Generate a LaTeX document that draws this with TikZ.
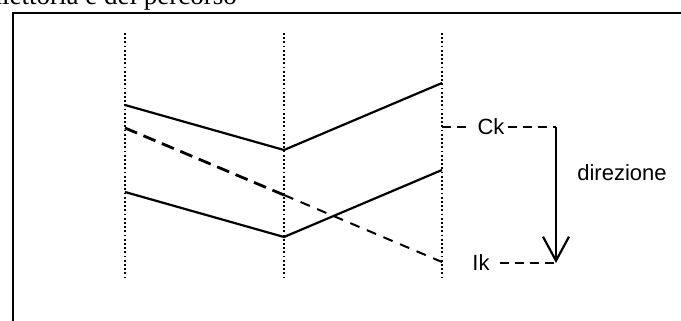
\documentclass[tikz,border=0pt]{standalone}
\usepackage{fontspec}
\setmainfont{Liberation Serif}
\newfontfamily\labelfont{Liberation Sans}
\usetikzlibrary{arrows.meta}
\begin{document}
\begin{tikzpicture}[x=1pt,y=-1pt,
  guide/.style={line width=1.8pt, dash pattern=on 1.8pt off 2.4pt},
  track/.style={line width=2.2pt},
  ref/.style={line width=1.8pt, dash pattern=on 9pt off 6pt},
  lbl/.style={font=\labelfont\fontsize{22}{25}\selectfont, inner sep=0pt}]
\useasboundingbox (0,0) rectangle (681,321);
\clip (0,0) rectangle (681,321);

% heading, partly above the page
\node[anchor=base east, font=\fontsize{27}{30}\selectfont, inner sep=0pt] (title) at (237,5) {traiettoria e del percorso};

% frame
\draw[line width=2.2pt] (13,340) -- (13,13) -- (700,13);

% dotted guides
\foreach \n/\x in {g1/125, g2/284, g3/442} {
  \coordinate (\n top) at (\x,33);
  \coordinate (\n bot) at (\x,280);
  \draw[guide] (\n top) -- (\n bot);
}

% upper track
\coordinate (u1) at (125,105);
\coordinate (u2) at (284,150);
\coordinate (u3) at (442,83);
\draw[track] (u1) -- (u2) -- (u3);

% lower track
\coordinate (l1) at (125,192);
\coordinate (l2) at (284,237);
\coordinate (l3) at (442,170);
\draw[track] (l1) -- (l2) -- (l3);

% dashed path
\coordinate (d1) at (125,128);
\coordinate (d2) at (284,195);
\coordinate (d3) at (442,262);
\draw[line width=2.8pt, dash pattern=on 13pt off 7pt] (d1) -- (d2);
\draw[line width=2pt, dash pattern=on 10pt off 8pt] (d2) -- (d3);

% labels
\node[lbl] (ck) at (491,127) {Ck};
\node[lbl] (ik) at (481,263) {Ik};
\node[lbl] (dir) at (622,173) {direzione};

\coordinate (ckfoot) at (442,127);
\coordinate (corner) at (556,127);
\coordinate (tip) at (556,263);

\draw[ref] (ckfoot) -- ([xshift=-10pt]ck.west);
\draw[ref] ([xshift=3pt]ck.east) -- (corner);
\draw[ref] ([xshift=10pt]ik.east) -- (tip);
\draw[track, -{Straight Barb[length=24pt, width=26pt]}] (corner) -- (tip);
\end{tikzpicture}
\end{document}
